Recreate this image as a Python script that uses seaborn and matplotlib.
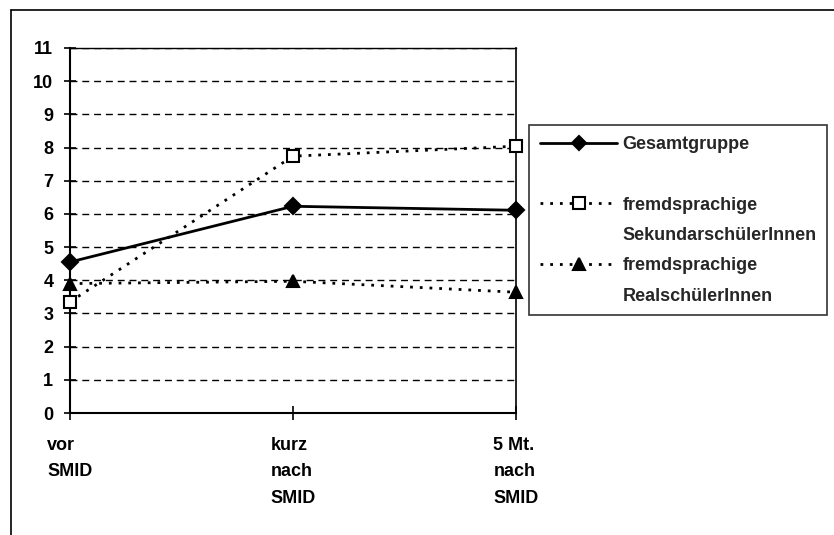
import matplotlib
matplotlib.use("Agg")
import matplotlib.pyplot as plt
from matplotlib.lines import Line2D
import seaborn as sns
import pandas as pd

sns.set_style("white")
plt.rcParams['font.family'] = ['Liberation Sans', 'DejaVu Sans']
plt.rcParams['font.weight'] = 'bold'

categories = ["vor\nSMID", "kurz\nnach\nSMID", "5 Mt.\nnach\nSMID"]
gesamt = [4.55, 6.23, 6.11]
sekundar = [3.35, 7.74, 8.04]
real = [3.90, 3.97, 3.64]
yticks = list(range(0, 12))

series = ["Gesamtgruppe", "Sekundar", "Real"]
legend_lines = [("Gesamtgruppe", ""),
                ("fremdsprachige", "SekundarschülerInnen"),
                ("fremdsprachige", "RealschülerInnen")]

df = pd.DataFrame({
    "pos": list(range(len(categories))) * 3,
    "wert": gesamt + sekundar + real,
    "gruppe": [series[0]] * 3 + [series[1]] * 3 + [series[2]] * 3,
})

fig = plt.figure(figsize=(8.34, 5.35), dpi=100)
ax = fig.add_axes([0.0839, 0.2280, 0.6187 - 0.0839, 0.9103 - 0.2280])

dotted = (0, (1, 2.5))
styles = {
    series[0]: dict(linestyle="-", marker="D", markersize=8, markerfacecolor="black"),
    series[1]: dict(linestyle=dotted, marker="s", markersize=9, markerfacecolor="white"),
    series[2]: dict(linestyle=dotted, marker="^", markersize=9, markerfacecolor="black"),
}

handles = []
for name in series:
    sub = df[df["gruppe"] == name]
    st = styles[name]
    sns.lineplot(data=sub, x="pos", y="wert", ax=ax, color="black", linewidth=2,
                 linestyle=st["linestyle"], marker=st["marker"], markersize=st["markersize"],
                 markerfacecolor=st["markerfacecolor"], markeredgecolor="black",
                 markeredgewidth=1.5, clip_on=False, zorder=3, legend=False)
    handles.append(Line2D([], [], color="black", linewidth=2, linestyle=st["linestyle"],
                          marker=st["marker"], markersize=st["markersize"] - 1,
                          markerfacecolor=st["markerfacecolor"], markeredgecolor="black",
                          markeredgewidth=1.5))

ax.set_xlim(0, len(categories) - 1)
ax.set_ylim(0, 11)
ax.set_yticks(yticks)
ax.set_xticks(range(len(categories)))
ax.set_xticklabels(categories, linespacing=1.75, multialignment="left")
ax.set_xlabel("")
ax.set_ylabel("")

ax.yaxis.grid(True, color="black", linestyle=(0, (5, 3.5)), linewidth=1)
ax.xaxis.grid(False)
ax.set_axisbelow(True)

for s in ["left", "bottom", "right", "top"]:
    ax.spines[s].set_visible(True)
    ax.spines[s].set_color("black")
ax.spines["left"].set_linewidth(1.5)
ax.spines["bottom"].set_linewidth(1.5)
ax.spines["right"].set_linewidth(1.2)
ax.spines["top"].set_linewidth(1.0)

ax.tick_params(axis="y", direction="inout", length=8, width=1.2, pad=8,
               labelsize=13, left=True, colors="black")
ax.tick_params(axis="x", direction="inout", length=10, width=1.2, pad=12,
               labelsize=13, bottom=True, colors="black")

# legend: first line of each entry carries the symbol, second line is text only
blank = Line2D([], [], linestyle="none")
leg_handles, leg_labels = [], []
for h, (first, second) in zip(handles, legend_lines):
    leg_handles += [h, blank]
    leg_labels += [first, second if second else " "]

leg = fig.legend(leg_handles, leg_labels, loc="upper left",
                 bbox_to_anchor=(529 / 834, 1 - 125 / 535),
                 frameon=True, fancybox=False, shadow=False,
                 fontsize=13, handlelength=4.3, handletextpad=0.28,
                 labelspacing=0.74, borderpad=0.6, borderaxespad=0)
leg.get_frame().set_edgecolor("black")
leg.get_frame().set_linewidth(1.2)

# outer chart border (only top and left visible in the scan)
fig.add_artist(Line2D([11 / 834, 1], [1 - 10 / 535, 1 - 10 / 535],
                      transform=fig.transFigure, color="black", linewidth=1.2))
fig.add_artist(Line2D([11 / 834, 11 / 834], [0, 1 - 10 / 535],
                      transform=fig.transFigure, color="black", linewidth=1.2))

fig.savefig("out.png", dpi=100)
